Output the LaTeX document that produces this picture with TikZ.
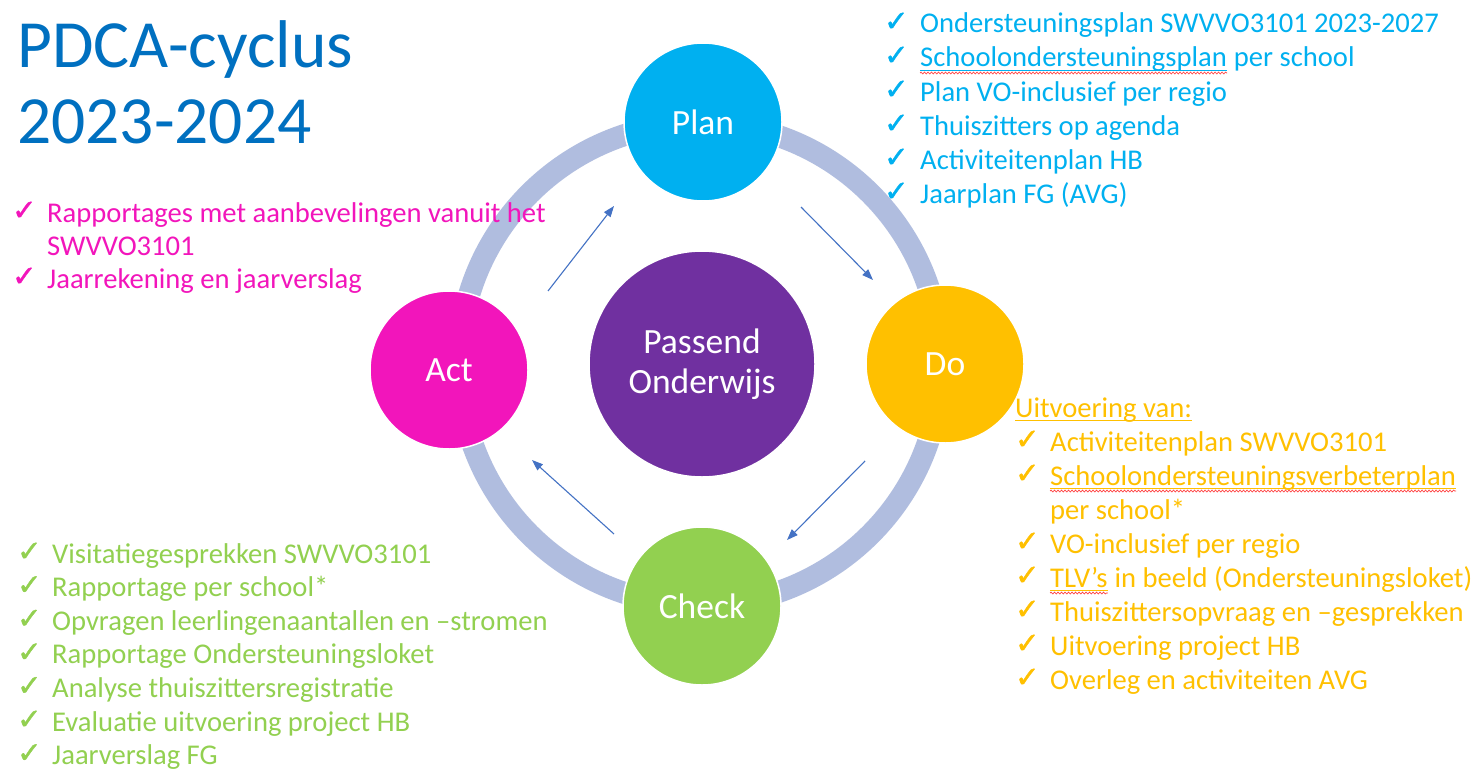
\documentclass[tikz,border=0pt]{standalone}
\usepackage{fontspec}
\setmainfont{Carlito}
\newfontfamily\symf{DejaVu Sans}[RawFeature={embolden=1.5}]
\usetikzlibrary{arrows.meta,decorations.pathmorphing}
\definecolor{plancol}{HTML}{00B0F0}
\definecolor{docol}{HTML}{FFC000}
\definecolor{checkcol}{HTML}{92D050}
\definecolor{actcol}{HTML}{F215BB}
\definecolor{purplecol}{HTML}{7030A0}
\definecolor{titlecol}{HTML}{0070C0}
\definecolor{ringcol}{HTML}{B0BDDF}
\definecolor{arrowcol}{HTML}{4472C4}
\definecolor{spellred}{HTML}{FF4040}
\tikzset{
  phase/.style={circle, minimum size=158bp, inner sep=0pt, draw=white, line width=1.5bp,
    text=white, font=\fontsize{35.5bp}{40bp}\selectfont, align=center},
  lst/.style={anchor=base west, inner sep=0pt, font=\fontsize{28.6bp}{34bp}\selectfont},
  chk/.style={anchor=base west, inner sep=0pt, yshift=2bp, font=\symf\fontsize{29bp}{34bp}\selectfont},
  ttl/.style={anchor=base west, inner sep=0pt, text=titlecol, font=\fontsize{67.5bp}{72bp}\selectfont},
  flow/.style={arrowcol, line width=1.1bp, -{Triangle[length=11bp,width=8bp]}},
  spell/.style={spellred, line width=0.7bp, decorate, decoration={snake, amplitude=0.9bp, segment length=3.5bp}},
}
\begin{document}
\begin{tikzpicture}[x=1bp,y=-1bp]
\useasboundingbox[fill=white] (0,0) rectangle (1476,773);

% title
\node[ttl] (title1) at (17,68) {PDCA-cyclus};
\node[ttl] (title2) at (17,143) {2023-2024};

% ring
\draw[ringcol, line width=22bp] (700,364) circle[radius=241];

% circles
\node[phase, fill=purplecol, minimum size=226bp] (po) at (702,364) {Passend\\Onderwijs};
\node[phase, fill=plancol] (plan) at (703,122) {Plan};
\node[phase, fill=docol] (do) at (945,364) {Do};
\node[phase, fill=checkcol] (check) at (702,606) {Check};
\node[phase, fill=actcol] (act) at (449,370) {Act};

% arrows
\coordinate (a1s) at (548,291); \coordinate (a1e) at (614,206);
\coordinate (a2s) at (801,207); \coordinate (a2e) at (873,280);
\coordinate (a3s) at (865,461); \coordinate (a3e) at (787,540);
\coordinate (a4s) at (614,534); \coordinate (a4e) at (532,460);
\draw[flow] (a1s) -- (a1e);
\draw[flow] (a2s) -- (a2e);
\draw[flow] (a3s) -- (a3e);
\draw[flow] (a4s) -- (a4e);

% Plan list
\foreach \yy [count=\i] in {33,67,101,135,169,203}
  \node[chk, text=plancol] (pc\i) at (884,\yy) {✓};
\node[lst, text=plancol] (p1) at (920,33) {Ondersteuningsplan SWVVO3101 2023-2027};
\node[lst, text=plancol] (p2a) at (920,67) {Schoolondersteuningsplan};
\node[lst, text=plancol] (p2b) at ([xshift=6.5bp]p2a.base east) {per school};
\draw[plancol, line width=1bp] ([yshift=-3bp]p2a.base west) -- ([yshift=-3bp]p2a.base east);
\draw[spell] ([yshift=-6bp]p2a.base west) -- ([yshift=-6bp]p2a.base east);
\node[lst, text=plancol] (p3) at (920,101) {Plan VO-inclusief per regio};
\node[lst, text=plancol] (p4) at (920,135) {Thuiszitters op agenda};
\node[lst, text=plancol] (p5) at (920,169) {Activiteitenplan HB};
\node[lst, text=plancol] (p6) at (920,203) {Jaarplan FG (AVG)};

% Do list
\node[lst, text=docol] (d0) at (1015,417) {Uitvoering van:};
\draw[docol, line width=1bp] ([yshift=-3.5bp]d0.base west) -- ([yshift=-3.5bp]d0.base east);
\foreach \yy [count=\i] in {451,485,553,587,621,655,689}
  \node[chk, text=docol] (dc\i) at (1015,\yy) {✓};
\node[lst, text=docol] (d1) at (1050,451) {Activiteitenplan SWVVO3101};
\node[lst, text=docol] (d2) at (1050,485) {Schoolondersteuningsverbeterplan};
\draw[docol, line width=1bp] ([yshift=-3bp]d2.base west) -- ([yshift=-3bp]d2.base east);
\draw[spell] ([yshift=-6bp]d2.base west) -- ([yshift=-6bp]d2.base east);
\node[lst, text=docol] (d2b) at (1050,519) {per school*};
\node[lst, text=docol] (d3) at (1050,553) {VO-inclusief per regio};
\node[lst, text=docol] (d4a) at (1050,587) {TLV’s};
\draw[docol, line width=1bp] ([yshift=-3bp]d4a.base west) -- ([yshift=-3bp]d4a.base east);
\draw[spell] ([yshift=-6bp]d4a.base west) -- ([yshift=-6bp]d4a.base east);
\node[lst, text=docol] (d4b) at ([xshift=6.5bp]d4a.base east) {in beeld (Ondersteuningsloket)};
\node[lst, text=docol] (d5) at (1050,621) {Thuiszittersopvraag en –gesprekken};
\node[lst, text=docol] (d6) at (1050,655) {Uitvoering project HB};
\node[lst, text=docol] (d7) at (1050,689) {Overleg en activiteiten AVG};

% Check list
\foreach \t [count=\i from 0] in {{Visitatiegesprekken SWVVO3101},{Rapportage per school*},{Opvragen leerlingenaantallen en –stromen},{Rapportage Ondersteuningsloket},{Analyse thuiszittersregistratie},{Evaluatie uitvoering project HB},{Jaarverslag FG}}{
  \node[chk, text=checkcol] (cc\i) at (17,563+33.6*\i) {✓};
  \node[lst, text=checkcol] (c\i) at (52,563+33.6*\i) {\t};
}

% Act list
\node[chk, text=actcol] (ac1) at (12,222) {✓};
\node[chk, text=actcol] (ac2) at (12,288) {✓};
\node[lst, text=actcol] (a1) at (47,222) {Rapportages met aanbevelingen vanuit het};
\node[lst, text=actcol] (a1b) at (47,255) {SWVVO3101};
\node[lst, text=actcol] (a2) at (47,288) {Jaarrekening en jaarverslag};
\end{tikzpicture}
\end{document}
